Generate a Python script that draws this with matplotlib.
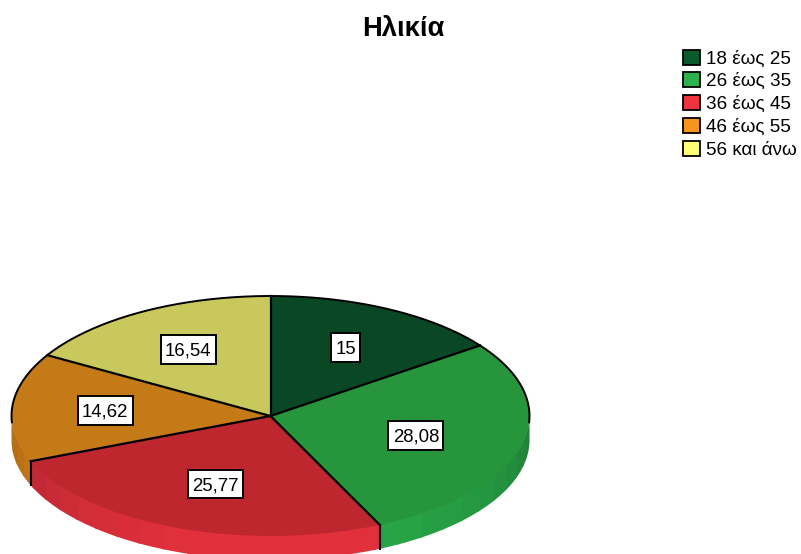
import numpy as np
import matplotlib
matplotlib.use("Agg")
import matplotlib.pyplot as plt
from matplotlib.patches import Patch, Rectangle

title = "Ηλικία"
categories = ["18 έως 25", "26 έως 35", "36 έως 45", "46 έως 55", "56 και άνω"]
values = [15, 28.08, 25.77, 14.62, 16.54]
value_labels = ["15", "28,08", "25,77", "14,62", "16,54"]
top_colors = ["#0a4725", "#26953b", "#bf272f", "#c47a16", "#c9c85c"]
legend_colors = ["#0b5a2e", "#2bb24c", "#ef3340", "#f7941d", "#ffff73"]

plt.rcParams["font.family"] = ["Liberation Sans", "DejaVu Sans"]
W, H = 801, 554
cx, cy, rx, ry, depth = 270.5, 416, 259, 120, 24

fig = plt.figure(figsize=(W / 100, H / 100), dpi=100, facecolor="white")
ax = fig.add_axes([0, 0, 1, 1])
ax.pie(values, colors=top_colors, startangle=90, counterclock=False, radius=1,
       wedgeprops={"linewidth": 0, "zorder": 3})
ax.set_aspect("auto")
ax.set_xlim(-cx / rx, (W - cx) / rx)
ax.set_ylim(-(H - cy) / ry, cy / ry)
ax.axis("off")

d = depth / ry
total = sum(values)
edges = 90 - 360 * np.concatenate([[0], np.cumsum(values)]) / total  # degrees, math convention

# side wall, drawn in shaded bands along the visible lower half
step = 6.0
for i, col in enumerate(legend_colors):
    a0, a1 = edges[i], edges[i + 1]          # a0 > a1
    base = np.array(matplotlib.colors.to_rgb(col))
    for hi in np.arange(360, -361, -step):
        lo = hi - step
        s, e = min(hi, a0), max(lo, a1)
        if s <= e:
            continue
        mid = np.radians((s + e) / 2)
        e_over = max(e - 0.8, a1)           # slight overlap hides seams
        t = np.radians(np.linspace(s, e_over, 12))
        keep = np.sin(t) <= 0.0
        if keep.sum() < 2:
            continue
        t = t[keep]
        f = 0.70 + 0.25 * max(0.0, -np.sin(mid))
        x = np.cos(t)
        ax.fill_between(x, np.sin(t) + 0.01, np.sin(t) - d, facecolor=base * f, lw=0, zorder=1)

# outlines
t = np.radians(np.linspace(-3, 183, 300))
ax.plot(np.cos(t), np.sin(t), color="black", lw=1.4, zorder=4)
for a in edges[:-1]:
    r = np.radians(a)
    ax.plot([0, np.cos(r)], [0, np.sin(r)], color="black", lw=1.6, zorder=4)
    if np.sin(r) < 0:
        ax.plot([np.cos(r)] * 2, [np.sin(r), np.sin(r) - d], color="black", lw=1.5, zorder=4)

# value labels: a box sized from the measured text
mids = (edges[:-1] + edges[1:]) / 2
shift_x = [0, -0.058, 0.023, 0, 0]
shift_y = [0, 0, 0.03, 0, 0]
renderer = fig.canvas.get_renderer()
for m, lab, sx, sy in zip(mids, value_labels, shift_x, shift_y):
    r = np.radians(m)
    px, py = 0.64 * np.cos(r) + sx, 0.64 * np.sin(r) + sy
    txt = ax.text(px, py, lab, ha="center", va="center_baseline", fontsize=13.4, color="black", zorder=6)
    w_px = txt.get_window_extent(renderer).width + 8.5
    h_px = 28.5
    w_d, h_d = w_px / rx, h_px / ry
    ax.add_patch(Rectangle((px - w_d / 2, py - h_d / 2), w_d, h_d, fc="white", ec="black", lw=1.4, zorder=5))

fig.text(403 / W, 1 - 29 / H, title, ha="center", va="center", fontsize=19.7, fontweight="bold")

handles = [Patch(facecolor=c, edgecolor="black", lw=1.3, label=l)
           for c, l in zip(legend_colors, categories)]
fig.legend(handles=handles, loc="upper left", bbox_to_anchor=(683 / W, 1 - 49.5 / H), frameon=False,
           fontsize=13.6, borderpad=0, borderaxespad=0, handlelength=0.92, handleheight=0.85,
           handletextpad=0.3, labelspacing=0.25)

fig.savefig("out.png", dpi=100, facecolor="white")
